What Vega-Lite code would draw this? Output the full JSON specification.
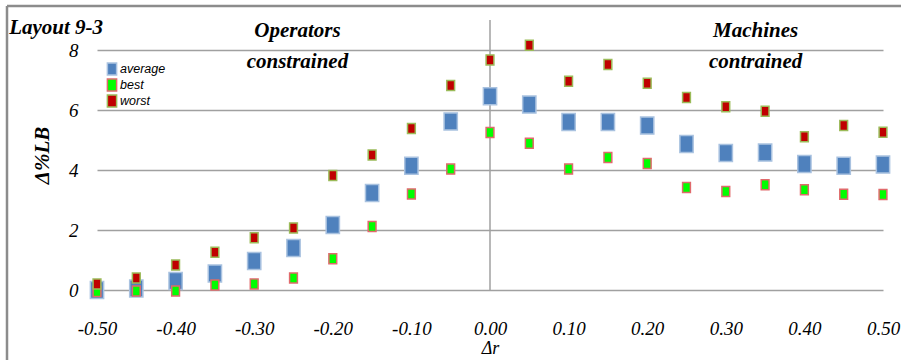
{
  "$schema": "https://vega.github.io/schema/vega-lite/v6.json",
  "width": 786,
  "height": 270,
  "autosize": {"type": "none"},
  "padding": {"left": 97, "top": 20, "right": 18, "bottom": 70},
  "background": "white",
  "config": {
    "view": {"stroke": null},
    "axis": {
      "labelFont": "Liberation Serif",
      "labelFontStyle": "italic",
      "labelFontSize": 19,
      "labelColor": "black",
      "titleColor": "black"
    }
  },
  "datasets": {
    "results": [
      {"dr": -0.50, "series": "average", "value": 0.0},
      {"dr": -0.45, "series": "average", "value": 0.05},
      {"dr": -0.40, "series": "average", "value": 0.3},
      {"dr": -0.35, "series": "average", "value": 0.55},
      {"dr": -0.30, "series": "average", "value": 0.97},
      {"dr": -0.25, "series": "average", "value": 1.4},
      {"dr": -0.20, "series": "average", "value": 2.17},
      {"dr": -0.15, "series": "average", "value": 3.23},
      {"dr": -0.10, "series": "average", "value": 4.14},
      {"dr": -0.05, "series": "average", "value": 5.62},
      {"dr": 0.00, "series": "average", "value": 6.46},
      {"dr": 0.05, "series": "average", "value": 6.18},
      {"dr": 0.10, "series": "average", "value": 5.6},
      {"dr": 0.15, "series": "average", "value": 5.6},
      {"dr": 0.20, "series": "average", "value": 5.48},
      {"dr": 0.25, "series": "average", "value": 4.87},
      {"dr": 0.30, "series": "average", "value": 4.57},
      {"dr": 0.35, "series": "average", "value": 4.58},
      {"dr": 0.40, "series": "average", "value": 4.2},
      {"dr": 0.45, "series": "average", "value": 4.14},
      {"dr": 0.50, "series": "average", "value": 4.18},
      {"dr": -0.50, "series": "best", "value": -0.05},
      {"dr": -0.45, "series": "best", "value": -0.03},
      {"dr": -0.40, "series": "best", "value": -0.03},
      {"dr": -0.35, "series": "best", "value": 0.17},
      {"dr": -0.30, "series": "best", "value": 0.2},
      {"dr": -0.25, "series": "best", "value": 0.4},
      {"dr": -0.20, "series": "best", "value": 1.04},
      {"dr": -0.15, "series": "best", "value": 2.12},
      {"dr": -0.10, "series": "best", "value": 3.2},
      {"dr": -0.05, "series": "best", "value": 4.03},
      {"dr": 0.00, "series": "best", "value": 5.25},
      {"dr": 0.05, "series": "best", "value": 4.89},
      {"dr": 0.10, "series": "best", "value": 4.03},
      {"dr": 0.15, "series": "best", "value": 4.42},
      {"dr": 0.20, "series": "best", "value": 4.22},
      {"dr": 0.25, "series": "best", "value": 3.42},
      {"dr": 0.30, "series": "best", "value": 3.28},
      {"dr": 0.35, "series": "best", "value": 3.51},
      {"dr": 0.40, "series": "best", "value": 3.34},
      {"dr": 0.45, "series": "best", "value": 3.19},
      {"dr": 0.50, "series": "best", "value": 3.18},
      {"dr": -0.50, "series": "worst", "value": 0.2},
      {"dr": -0.45, "series": "worst", "value": 0.4},
      {"dr": -0.40, "series": "worst", "value": 0.83},
      {"dr": -0.35, "series": "worst", "value": 1.26},
      {"dr": -0.30, "series": "worst", "value": 1.74},
      {"dr": -0.25, "series": "worst", "value": 2.07},
      {"dr": -0.20, "series": "worst", "value": 3.82},
      {"dr": -0.15, "series": "worst", "value": 4.5},
      {"dr": -0.10, "series": "worst", "value": 5.38},
      {"dr": -0.05, "series": "worst", "value": 6.82},
      {"dr": 0.00, "series": "worst", "value": 7.67},
      {"dr": 0.05, "series": "worst", "value": 8.16},
      {"dr": 0.10, "series": "worst", "value": 6.96},
      {"dr": 0.15, "series": "worst", "value": 7.52},
      {"dr": 0.20, "series": "worst", "value": 6.89},
      {"dr": 0.25, "series": "worst", "value": 6.42},
      {"dr": 0.30, "series": "worst", "value": 6.11},
      {"dr": 0.35, "series": "worst", "value": 5.96},
      {"dr": 0.40, "series": "worst", "value": 5.11},
      {"dr": 0.45, "series": "worst", "value": 5.48},
      {"dr": 0.50, "series": "worst", "value": 5.26}
    ],
    "notes": [
      {"dr": -0.245, "level": 8.63, "text": "Operators"},
      {"dr": -0.245, "level": 7.6, "text": "constrained"},
      {"dr": 0.338, "level": 8.63, "text": "Machines"},
      {"dr": 0.338, "level": 7.6, "text": "contrained"},
      {"dr": -0.552, "level": 8.73, "text": "Layout 9-3"}
    ]
  },
  "layer": [
    {
      "data": {"values": [{}]},
      "mark": {"type": "rule", "color": "#8c8c8c", "strokeWidth": 2.5, "clip": false},
      "encoding": {
        "x": {"datum": -0.6145, "type": "quantitative"},
        "x2": {"datum": 0.53},
        "y": {"datum": 9.467, "type": "quantitative"}
      }
    },
    {
      "data": {"values": [{}]},
      "mark": {"type": "rule", "color": "#8c8c8c", "strokeWidth": 2.5, "clip": false},
      "encoding": {
        "x": {"datum": -0.6145, "type": "quantitative"},
        "y": {"datum": 9.467, "type": "quantitative"},
        "y2": {"datum": -2.4}
      }
    },
    {
      "data": {"values": [{}]},
      "mark": {"type": "rule", "color": "#a0a0a0", "strokeWidth": 1.5},
      "encoding": {
        "x": {"datum": 0, "type": "quantitative"}
      }
    },
    {
      "data": {"name": "results"},
      "mark": {
        "type": "point",
        "filled": true,
        "opacity": 1,
        "strokeWidth": 1.5,
        "shape": "M-0.78,-1H0.78V1H-0.78Z",
        "clip": false
      },
      "encoding": {
        "x": {
          "field": "dr",
          "type": "quantitative",
          "scale": {"domain": [-0.5, 0.5], "nice": false, "zero": false},
          "axis": {
            "values": [-0.5, -0.4, -0.3, -0.2, -0.1, 0, 0.1, 0.2, 0.3, 0.4, 0.5],
            "labelExpr": "replace(format(datum.value, '.2f'), '\u2212', '-')",
            "grid": false,
            "domain": false,
            "ticks": false,
            "labelPadding": 29,
            "labelFlush": false,
            "title": "Δr",
            "titleFont": "Liberation Serif",
            "titleFontStyle": "italic",
            "titleFontWeight": "normal",
            "titleFontSize": 18,
            "titlePadding": 1
          }
        },
        "y": {
          "field": "value",
          "type": "quantitative",
          "scale": {"domain": [0, 9], "nice": false, "zero": false},
          "axis": {
            "values": [0, 2, 4, 6, 8],
            "grid": true,
            "gridColor": "#a0a0a0",
            "gridWidth": 1.5,
            "domain": false,
            "ticks": false,
            "labelPadding": 19,
            "title": "Δ%LB",
            "titleFont": "Liberation Serif",
            "titleFontStyle": "italic",
            "titleFontWeight": "bold",
            "titleFontSize": 21,
            "titlePadding": 16
          }
        },
        "fill": {
          "field": "series",
          "type": "nominal",
          "scale": {"domain": ["average", "best", "worst"], "range": ["#4f81bd", "#00ff00", "#c00000"]},
          "legend": {
            "orient": "none",
            "legendX": 8,
            "legendY": 42,
            "title": null,
            "padding": 0,
            "symbolType": "M-0.78,-1H0.78V1H-0.78Z",
            "symbolSize": 140,
            "symbolStrokeWidth": 1.5,
            "labelFont": "Liberation Sans",
            "labelFontStyle": "italic",
            "labelFontSize": 12.5,
            "labelColor": "black",
            "labelOffset": 1,
            "rowPadding": -2
          }
        },
        "stroke": {
          "field": "series",
          "type": "nominal",
          "scale": {"domain": ["average", "best", "worst"], "range": ["#a9c2e0", "#e06a6c", "#9bbb59"]}
        },
        "size": {
          "condition": {"test": "datum.series === 'average'", "value": 289},
          "value": 100
        }
      }
    },
    {
      "data": {"name": "notes"},
      "mark": {
        "type": "text",
        "font": "Liberation Serif",
        "fontStyle": "italic",
        "fontWeight": "bold",
        "fontSize": 21,
        "color": "black",
        "align": "center",
        "baseline": "middle",
        "clip": false
      },
      "encoding": {
        "x": {"field": "dr", "type": "quantitative"},
        "y": {"field": "level", "type": "quantitative"},
        "text": {"field": "text"}
      }
    }
  ]
}
